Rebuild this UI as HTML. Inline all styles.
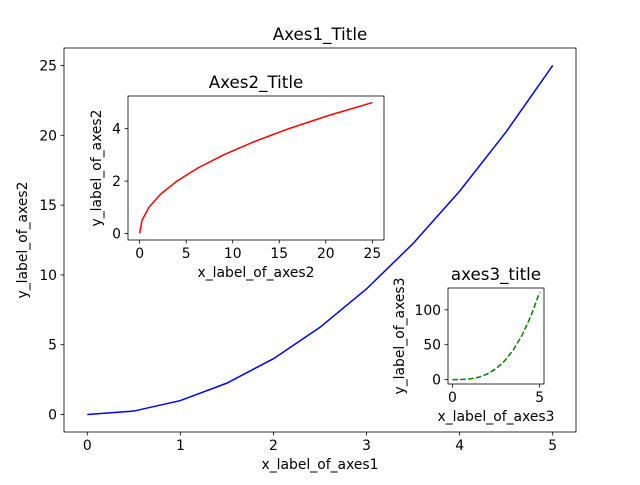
<!DOCTYPE html>
<html><head><meta charset="utf-8"><style>
body{margin:0;background:#fff}
text{font-family:"DejaVu Sans","Liberation Sans",sans-serif;fill:#000}
</style></head><body>
<svg id="c" width="640" height="480" xmlns="http://www.w3.org/2000/svg"></svg>
<script>
const xs=[0,0.5,1,1.5,2,2.5,3,3.5,4,4.5,5];
const ySquare=[0,0.25,1,2.25,4,6.25,9,12.25,16,20.25,25];
const ySqrt=[0,0.5,1,1.5,2,2.5,3,3.5,4,4.5,5];
const yCube=[0,0.125,1,3.375,8,15.625,27,42.875,64,91.125,125];
const mainXTicks=[0,1,2,3,4,5];
const mainYTicks=[0,5,10,15,20,25];
const ax2XTicks=[0,5,10,15,20,25];
const ax2YTicks=[0,2,4];
const ax3XTicks=[0,5];
const ax3YTicks=[0,50,100];
const NS="http://www.w3.org/2000/svg";
const svg=document.getElementById('c');
function mk(t,a,p){const e=document.createElementNS(NS,t);for(const k in a)e.setAttribute(k,a[k]);(p||svg).appendChild(e);return e;}
function axes(o){
  const g=mk('g',{});
  
  
  const sx=v=>o.l+(v-o.x0)/(o.x1-o.x0)*(o.r-o.l);
  const sy=v=>o.b-(v-o.y0)/(o.y1-o.y0)*(o.b-o.t);
  mk('rect',{x:o.l,y:o.t,width:o.r-o.l,height:o.b-o.t,fill:'#fff'},g);
  const pts=o.X.map((v,i)=>sx(v)+','+sy(o.Y[i])).join(' ');
  const line=mk('polyline',{points:pts,fill:'none',stroke:o.color,'stroke-width':1.5,'stroke-dasharray':o.dash||'none'},g);
  
  
  const fr=mk('rect',{x:o.l,y:o.t,width:o.r-o.l,height:o.b-o.t,fill:'none',stroke:'#000','stroke-width':0.8},g);
  o.xt.forEach(v=>{const x=sx(v);mk('line',{x1:x,x2:x,y1:o.b,y2:o.b+3.5,stroke:'#000','stroke-width':0.8},g);
    const t=mk('text',{x:x,y:o.b+18,'font-size':13.9,'text-anchor':'middle'},g);t.textContent=v;
    });
  o.yt.forEach(v=>{const y=sy(v);mk('line',{x1:o.l,x2:o.l-3.5,y1:y,y2:y,stroke:'#000','stroke-width':0.8},g);
    const t=mk('text',{x:o.l-7,y:y+5,'font-size':13.9,'text-anchor':'end'},g);t.textContent=v;
    });
  const tt=mk('text',{x:(o.l+o.r)/2,y:o.t-8,'font-size':16.7,'text-anchor':'middle'},g);tt.textContent=o.title;
  
  const xl=mk('text',{x:(o.l+o.r)/2,y:o.b+37,'font-size':13.9,'text-anchor':'middle'},g);xl.textContent=o.xl;
  
  const yx=o.ylx,yy=(o.t+o.b)/2;
  const yl=mk('text',{x:yx,y:yy,'font-size':13.9,'text-anchor':'middle',transform:`rotate(-90 ${yx} ${yy})`},g);yl.textContent=o.yl;
  
}
axes({name:'axes1',l:64,r:576,t:48,b:432,x0:-0.25,x1:5.25,y0:-1.25,y1:26.25,X:xs,Y:ySquare,color:'blue',xt:mainXTicks,yt:mainYTicks,title:'Axes1_Title',xl:'x_label_of_axes1',yl:'y_label_of_axes2',ylx:27});
axes({name:'axes2',l:128,r:384,t:96,b:240,x0:-1.25,x1:26.25,y0:-0.25,y1:5.25,X:ySquare,Y:ySqrt,color:'red',xt:ax2XTicks,yt:ax2YTicks,title:'Axes2_Title',xl:'x_label_of_axes2',yl:'y_label_of_axes2',ylx:101});
axes({name:'axes3',l:448,r:544,t:288,b:384,x0:-0.25,x1:5.25,y0:-6.25,y1:131.25,X:xs,Y:yCube,color:'green',dash:'5.5,2.4',xt:ax3XTicks,yt:ax3YTicks,title:'axes3_title',xl:'x_label_of_axes3',yl:'y_label_of_axes3',ylx:404});
</script>
</body></html>
